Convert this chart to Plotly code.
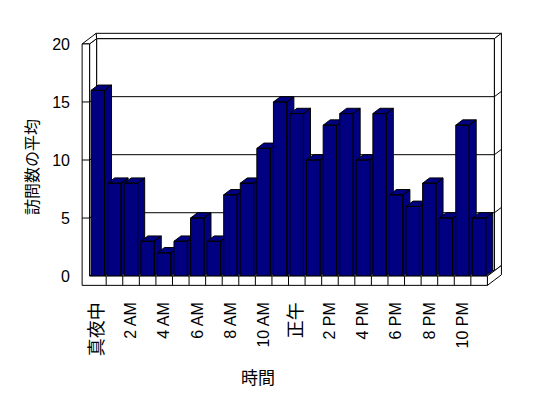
import plotly.graph_objects as go

# ---- data ----
hours = list(range(24))
visits = [16, 8, 8, 3, 2, 3, 5, 3, 7, 8, 11, 15,
          14, 10, 13, 14, 10, 14, 7, 6, 8, 5, 13, 5]
tick_positions = [0, 2, 4, 6, 8, 10, 12, 14, 16, 18, 20, 22]
tick_labels = ["真夜中", "2 AM", "4 AM", "6 AM", "8 AM", "10 AM",
               "正午", "2 PM", "4 PM", "6 PM", "8 PM", "10 PM"]
y_ticks = [0, 5, 10, 15, 20]
y_max = 20

# ---- 3D styling (in data units) ----
DX, DY = 0.4225, 0.457      # depth offset
TW = 0.45                   # left wall thickness
TH = 0.8                    # floor thickness
GAP, BW = 0.09, 0.81        # bar gap and width
NAVY = "#000080"
FONT = "Liberation Sans, Noto Sans CJK JP, sans-serif"

n = len(hours)
L, R = -0.5, n - 0.5

fig = go.Figure()

def poly(xs, ys, fill="white", width=1):
    fig.add_trace(go.Scatter(x=xs, y=ys, mode="lines", fill="toself",
                             fillcolor=fill, line=dict(color="black", width=width),
                             hoverinfo="skip", showlegend=False))

def line(xs, ys):
    fig.add_trace(go.Scatter(x=xs, y=ys, mode="lines",
                             line=dict(color="black", width=1),
                             hoverinfo="skip", showlegend=False))

# back wall front face
poly([L + DX, R + DX, R + DX, L + DX, L + DX],
     [DY, DY, y_max + DY, y_max + DY, DY])
# back wall top face
poly([L + DX, R + DX, R + 2 * DX, L - TW + 2 * DX, L + DX],
     [y_max + DY, y_max + DY, y_max + 2 * DY, y_max + 2 * DY, y_max + DY])
# back wall right face
poly([R + DX, R + DX, R + 2 * DX, R + 2 * DX, R + DX],
     [DY, y_max + DY, y_max + 2 * DY, 2 * DY, DY])
# left wall inner face
poly([L, L, L + DX, L + DX, L], [0, y_max, y_max + DY, DY, 0])
# left wall top face
poly([L - TW, L, L + DX, L - TW + 2 * DX, L - TW],
     [y_max, y_max, y_max + DY, y_max + 2 * DY, y_max])
# floor top face
poly([L, R, R + DX, L + DX, L], [0, 0, DY, DY, 0])
# floor right face
poly([R, R, R + 2 * DX, R + 2 * DX, R], [-TH, 0, 2 * DY, -TH + 2 * DY, -TH])

# gridlines
for v in y_ticks[1:-1]:
    line([L, L + DX, R + DX, R + 2 * DX], [v, v + DY, v + DY, v + 2 * DY])

# bars
for i, v in zip(hours, visits):
    x0 = i - 0.5 + GAP
    x1 = x0 + BW
    xs = [x1, x1, x1 + DX, x1 + DX, x1, None,
          x0, x1, x1 + DX, x0 + DX, x0, None,
          x0, x1, x1, x0, x0]
    ys = [0, v, v + DY, DY, 0, None,
          v, v, v + DY, v + DY, v, None,
          0, 0, v, v, 0]
    poly(xs, ys, fill=NAVY)

# front L-shaped face (left wall front + floor front)
poly([L - TW, R, R, L, L, L - TW, L - TW],
     [-TH, -TH, 0, 0, y_max, y_max, -TH])
# floor dividers
for k in range(1, n):
    line([L + k, L + k], [-TH, 0])
# left wall ticks
for v in y_ticks[1:-1]:
    line([L - TW, L], [v, v])


def styled(label):
    # CJK labels are drawn a little larger in the reference
    if any(ord(c) > 0x2E80 for c in label):
        return f'<span style="font-size:18px">{label}</span>'
    return label


# page body has an 8px default margin, so the figure is shifted by 8px
fig.update_layout(
    width=540, height=390,
    margin=dict(l=70, r=44, t=22, b=108),
    paper_bgcolor="white", plot_bgcolor="white",
    font=dict(family=FONT, size=16, color="black"),
    showlegend=False,
    xaxis=dict(range=[-1.2, 24.5], tickmode="array", tickvals=tick_positions,
               ticktext=[styled(t) for t in tick_labels], tickangle=-90,
               showgrid=False, zeroline=False, showline=False, ticks="",
               ticklabelstandoff=8, tickfont=dict(family=FONT, size=16),
               automargin=False),
    yaxis=dict(range=[-1.2, 21.2], tickmode="array", tickvals=y_ticks,
               showgrid=False, zeroline=False, showline=False, ticks="",
               ticklabelstandoff=7, tickfont=dict(family=FONT, size=16),
               automargin=False),
    annotations=[
        dict(text="時間", xref="paper", yref="paper", x=(258 - 78) / 425.8,
             y=(290 - 378) / 259.84, showarrow=False, xanchor="center",
             yanchor="middle", font=dict(family=FONT, size=17)),
        dict(text="訪問数の平均", xref="paper", yref="paper", x=(33 - 78) / 425.8,
             y=(290 - 167) / 259.84, showarrow=False, textangle=-90,
             xanchor="center", yanchor="middle", font=dict(family=FONT, size=16)),
    ],
)

fig.write_html("out.html")
